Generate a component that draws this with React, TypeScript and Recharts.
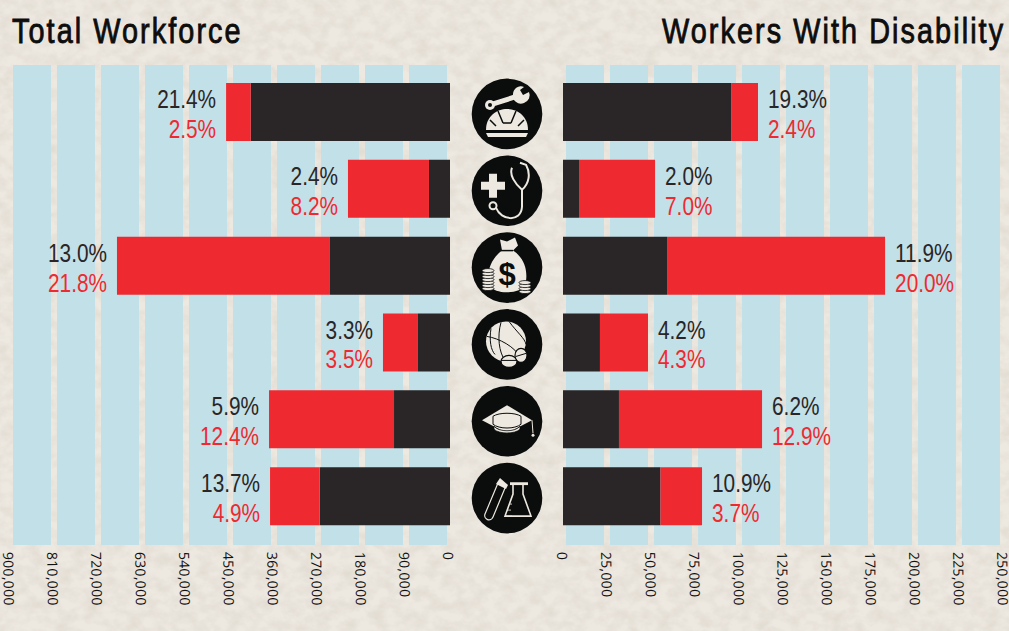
import React from "react";
import { BarChart, Bar, XAxis, YAxis, CartesianGrid, LabelList } from "recharts";

const sectors = ["Construction", "Health Care", "Finance", "Recreation", "Education", "Science"];
const totalLow = [407500, 43000, 245500, 65500, 114500, 266500];
const totalHigh = [50500, 165700, 435700, 71600, 255700, 101600];
const disabledLow = [95500, 9100, 59100, 21000, 31800, 55400];
const disabledHigh = [15300, 43200, 123900, 27300, 81300, 23600];
const totalLowPct = ["21.4%", "2.4%", "13.0%", "3.3%", "5.9%", "13.7%"];
const totalHighPct = ["2.5%", "8.2%", "21.8%", "3.5%", "12.4%", "4.9%"];
const disabledLowPct = ["19.3%", "2.0%", "11.9%", "4.2%", "6.2%", "10.9%"];
const disabledHighPct = ["2.4%", "7.0%", "20.0%", "4.3%", "12.9%", "3.7%"];
const totalTicks = [0, 90000, 180000, 270000, 360000, 450000, 540000, 630000, 720000, 810000, 900000];
const disabledTicks = [0, 25000, 50000, 75000, 100000, 125000, 150000, 175000, 200000, 225000, 250000];

const leftData = sectors.map((s, i) => ({ s, low: totalLow[i], high: totalHigh[i] }));
const rightData = sectors.map((s, i) => ({ s, low: disabledLow[i], high: disabledHigh[i] }));

const BLUE = "#c2e0e8";
const DARK = "#2a2526";
const RED = "#ee2a30";
const INK = "#0a0d0c";
const PAPER = "#ede8e0";
const HAND = "'Liberation Sans', sans-serif";

// Stripe edges: each interval between ticks, inset by a small fraction (3/44) on both sides.
const stripeEdges = (t: number[]) =>
  t.slice(0, -1).flatMap((v, i) => {
    const inset = ((t[i + 1] - v) * 3) / 44;
    return [v + inset, t[i + 1] - inset];
  });

const Wrench = () => (
  <g>
    <path d="M-17,-9 L8,-17" stroke={PAPER} strokeWidth={5} strokeLinecap="round" />
    <circle cx={-17} cy={-9} r={5} fill={PAPER} />
    <circle cx={-17} cy={-9} r={2} fill={INK} />
    <path d="M6,-20 A8,8 0 0 0 17,-11 A8,8 0 0 0 22,-22 L16,-19 L13,-24 L17,-27 A8,8 0 0 0 6,-20 Z" fill={PAPER} />
    <path d="M-21,16 C-21,2 -10,-5 0,-5 C10,-5 21,2 21,16 Z" fill={PAPER} />
    <path d="M-9,-3 L-4,9 M9,-3 L4,9 M-4,9 L4,9 M-17,6 L-11,12 M17,6 L11,12" stroke={INK} strokeWidth={1.5} fill="none" />
    <path d="M-21,19 L21,19 L19,23 L-19,23 Z" fill={PAPER} />
  </g>
);

const Stethoscope = () => (
  <g>
    <path d="M-18,-17 h8 v8 h8 v8 h-8 v8 h-8 v-8 h-8 v-8 h8 Z" fill={PAPER} />
    <circle cx={-14} cy={15} r={3.5} fill="none" stroke={PAPER} strokeWidth={2} />
    <path d="M-11,17 C-6,30 14,32 15,16 L15,-1 C8,-7 2,-16 5,-23 M15,-1 C22,-7 24,-17 19,-26 L13,-28" fill="none" stroke={PAPER} strokeWidth={2} />
  </g>
);

const CoinStack = ({ x, y, n }: { x: number; y: number; n: number }) => (
  <g>
    {Array.from({ length: n }, (_, i) => (
      <ellipse key={i} cx={x} cy={y - i * 3} rx={6} ry={2} fill={PAPER} stroke={INK} strokeWidth={0.8} />
    ))}
  </g>
);

const MoneyBag = () => (
  <g>
    <path d="M-7,-28 L0,-26 L8,-30 L11,-22 L6,-17 C20,-8 21,8 18,18 C14,26 -12,28 -17,18 C-22,6 -16,-9 -5,-17 Z" fill={PAPER} />
    <path d="M-6,-17 L6,-17" stroke={INK} strokeWidth={1.5} />
    <text x={0} y={17} textAnchor="middle" fontSize={31} fontWeight={700} fontFamily="'Liberation Sans', sans-serif" fill={INK}>$</text>
    <CoinStack x={-19} y={21} n={7} />
    <CoinStack x={18} y={24} n={4} />
  </g>
);

const BallAndPills = () => (
  <g>
    <circle cx={-1} cy={-3} r={20} fill={PAPER} />
    <path d="M-20,-8 C-8,-6 8,2 14,14 M-6,-22 C-10,-8 -8,8 -2,16 M2,-23 C10,-12 18,-6 19,0 M-16,-16 C-18,-4 -16,6 -12,10" fill="none" stroke={INK} strokeWidth={1} />
    <ellipse cx={2} cy={17} rx={8} ry={6} fill={PAPER} stroke={INK} strokeWidth={1.2} />
    <ellipse cx={14} cy={11} rx={6} ry={7} fill={PAPER} stroke={INK} strokeWidth={1.2} />
    <path d="M9,12 L19,9 M-6,16 L10,16" stroke={INK} strokeWidth={1} />
  </g>
);

const GradCap = () => (
  <g>
    <path d="M-25,-1 L0,-16 L25,-1 L0,12 Z" fill={PAPER} />
    <path d="M-14,3 L-14,-5 C-8,-9 8,-9 14,-5 L14,3 C8,8 -8,8 -14,3" fill="none" stroke={INK} strokeWidth={1} />
    <path d="M-13,5 C-8,11 8,11 13,5 L13,8 C8,13 -8,13 -13,8 Z" fill={PAPER} stroke={INK} strokeWidth={0.8} />
    <path d="M25,-1 L26,12" stroke={PAPER} strokeWidth={1} />
    <circle cx={26} cy={14} r={1.5} fill={PAPER} />
  </g>
);

const Flasks = () => (
  <g>
    <path d="M-9,-15 L-22,16 A4,4 0 0 0 -14,19 L-2,-10" fill="none" stroke={PAPER} strokeWidth={1.2} />
    <path d="M-11,-14 L-1,-9 L1,-13 L-7,-20 Z" fill={PAPER} />
    <path d="M3,-15 h18 M6,-15 v11 L-2,18 h26 L16,-4 v-11" fill="none" stroke={PAPER} strokeWidth={1.6} />
    <path d="M3,-15 h18 v2 h-18 Z" fill={PAPER} />
    <path d="M-2,18 h7 M0,12 h4 M2,6 h3" stroke={PAPER} strokeWidth={0.8} />
  </g>
);

const iconArt = [Wrench, Stethoscope, MoneyBag, BallAndPills, GradCap, Flasks];

const IconTick = ({ x, y, index }: any) => {
  const Art = iconArt[index];
  return (
    <g transform={`translate(${x + 57},${y + 1.5})`}>
      <circle r={35.3} fill={INK} />
      <Art />
    </g>
  );
};

const AxisTick = (dx: number) => ({ x, y, payload }: any) => (
  <text
    x={x + dx}
    y={y + 7}
    transform={`rotate(89 ${x + dx} ${y + 7})`}
    fontFamily="'Open Sans', sans-serif"
    fontSize={14}
    fill="#111"
    textAnchor="start"
    letterSpacing={0.3}
  >
    {payload.value.toLocaleString("en-US")}
  </text>
);

const PctLabel = (lows: string[], highs: string[], side: "left" | "right") => (props: any) => {
  const { x, y, width, height, index } = props;
  const cy = y + height / 2;
  const edge = side === "left" ? Math.min(x, x + width) - 10 : Math.max(x, x + width) + 10;
  const anchor = side === "left" ? "end" : "start";
  return (
    <g fontFamily={HAND} fontSize={26} textAnchor={anchor} transform={`translate(${edge} ${cy}) scale(0.8 1)`}>
      <text x={0} y={-4} fill={DARK}>{lows[index]}</text>
      <text x={0} y={26} fill={RED}>{highs[index]}</text>
    </g>
  );
};

export default function App() {
  return (
    <div style={{ position: "absolute", left: 0, top: 0, width: 1009, height: 631, overflow: "hidden", background: PAPER }}>
      <svg width={1009} height={631} style={{ position: "absolute", left: 0, top: 0 }}>
        <filter id="paper" x="0" y="0" width="100%" height="100%">
          <feTurbulence type="fractalNoise" baseFrequency="0.07 0.09" numOctaves={4} seed={7} />
          <feColorMatrix values="0 0 0 0 0.55  0 0 0 0 0.5  0 0 0 0 0.42  0.5 0 0 0 -0.17" />
        </filter>
        <rect width={1009} height={631} filter="url(#paper)" />
        <g fontFamily={HAND} fontSize={36} fill="#0d0d0d" stroke="#0d0d0d" strokeWidth={0.9} letterSpacing={2.6}>
          <text transform="translate(12 43) scale(0.8 1)">Total Workforce</text>
          <text transform="translate(662 43) scale(0.8 1)">Workers With Disability</text>
        </g>
      </svg>

      <div style={{ position: "absolute", left: 0, top: 0 }}>
        <BarChart width={550} height={631} data={leftData} layout="vertical" margin={{ top: 65, right: 0, bottom: 0, left: 10 }} barSize={58}>
          <CartesianGrid horizontal={false} stroke="none" verticalValues={stripeEdges(totalTicks)} verticalFill={["none", BLUE]} />
          <XAxis type="number" reversed domain={[0, 900000]} ticks={totalTicks} interval={0} height={86} axisLine={false} tickLine={false} tickSize={0} tickMargin={0} tick={AxisTick(-7)} />
          <YAxis type="category" dataKey="s" orientation="right" width={100} axisLine={false} tickLine={false} tickSize={0} tickMargin={0} padding={{ top: 9, bottom: 10 }} tick={<IconTick />} />
          <Bar dataKey="low" stackId="a" fill={DARK} isAnimationActive={false} />
          <Bar dataKey="high" stackId="a" fill={RED} isAnimationActive={false}>
            <LabelList dataKey="high" content={PctLabel(totalLowPct, totalHighPct, "left")} />
          </Bar>
        </BarChart>
      </div>

      <div style={{ position: "absolute", left: 550, top: 0 }}>
        <BarChart width={459} height={631} data={rightData} layout="vertical" margin={{ top: 65, right: 6, bottom: 0, left: 13 }} barSize={58}>
          <CartesianGrid horizontal={false} stroke="none" verticalValues={stripeEdges(disabledTicks)} verticalFill={["none", BLUE]} />
          <XAxis type="number" domain={[0, 250000]} ticks={disabledTicks} interval={0} height={86} axisLine={false} tickLine={false} tickSize={0} tickMargin={0} tick={AxisTick(-6)} />
          <YAxis type="category" dataKey="s" hide padding={{ top: 9, bottom: 10 }} />
          <Bar dataKey="low" stackId="a" fill={DARK} isAnimationActive={false} />
          <Bar dataKey="high" stackId="a" fill={RED} isAnimationActive={false}>
            <LabelList dataKey="high" content={PctLabel(disabledLowPct, disabledHighPct, "right")} />
          </Bar>
        </BarChart>
      </div>
    </div>
  );
}
